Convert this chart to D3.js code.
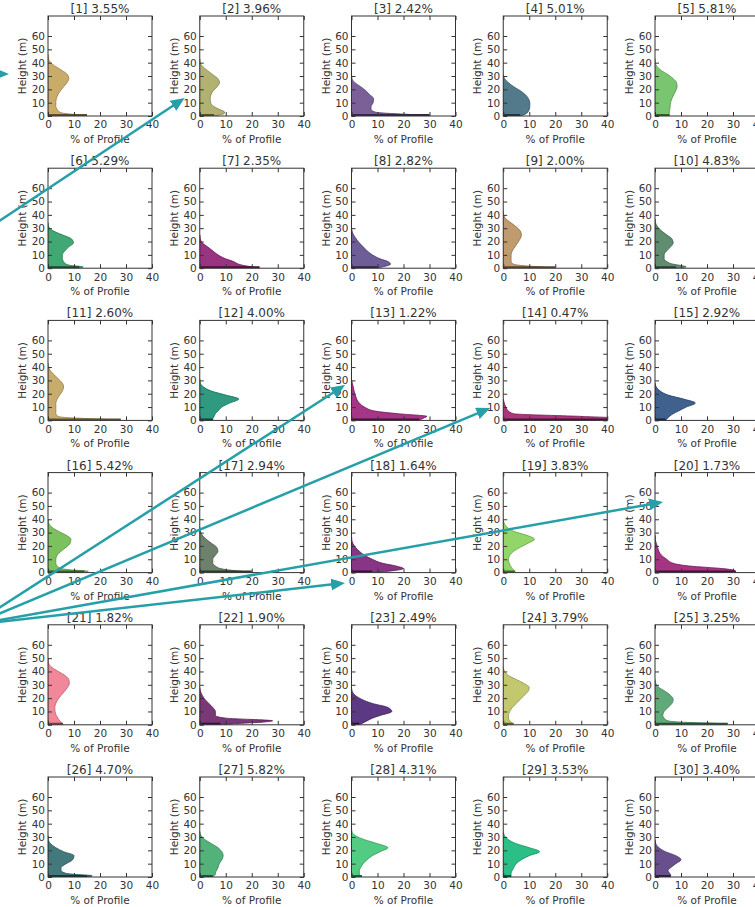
<!DOCTYPE html>
<html>
<head>
<meta charset="utf-8">
<script src="https://cdn.jsdelivr.net/npm/d3@7"></script>
<style>
    body { margin: 0; background: #fff; }
    text { font-family: "DejaVu Sans", sans-serif; fill: #333; }
</style>
</head>
<body>
<svg id="canvas" width="755" height="907"></svg>
<script>
// heights (m) the profiles are sampled at
let heights = [0, 1, 2, 3, 5, 7, 10, 13, 16, 19, 22, 25, 28, 31, 34, 37, 40, 43, 46, 50]

let shares = [3.55, 3.96, 2.42, 5.01, 5.81, 5.29, 2.35, 2.82, 2.00, 4.83,
              2.60, 4.00, 1.22, 0.47, 2.92, 5.42, 2.94, 1.64, 3.83, 1.73,
              1.82, 1.90, 2.49, 3.79, 3.25, 4.70, 5.82, 4.31, 3.53, 3.40]

let colors = ["#c4a35a", "#a9a963", "#6b4f8c", "#3f6b7d", "#6cbf5f",
              "#2e9e64", "#8e1f72", "#5e4b8b", "#b8905e", "#4f7f5f",
              "#c2a35e", "#1a8f72", "#9b1f78", "#a3206e", "#2b4f82",
              "#6dbb4d", "#5e735c", "#7a1f78", "#86d15a", "#9b1f75",
              "#f07b8e", "#6a2468", "#4b2376", "#bcc25e", "#4fa06a",
              "#2f6a6e", "#3faa6a", "#3ec774", "#14b87a", "#5a3c82"]

// % of profile at each height
let p1  = [15, 11, 6, 4.5, 3.5, 3, 3, 3.2, 3.8, 4.8, 6, 7.3, 8, 7.5, 5.5, 3, 1, 0.2, 0]
let p2  = [5.5, 8, 9.5, 9.5, 7.5, 5.5, 4.2, 4, 4.3, 5.2, 6.7, 7.6, 7, 5, 3, 1.2, 0.2, 0]
let p3  = [30, 24, 14, 9, 7.5, 7.5, 8.3, 8.5, 7, 5.5, 3.5, 1.3, 0.2, 0]
let p4  = [6.5, 8, 9, 9.5, 10, 10.2, 10.2, 9.7, 8.5, 6.5, 4, 2, 0.5, 0]
let p5  = [5.5, 5.5, 5.5, 5.5, 5.7, 5.8, 6, 6.5, 7.2, 8, 8.5, 8.3, 7, 5, 2.5, 0.8, 0.1, 0]
let p6  = [12, 13.5, 9, 7, 6, 5.5, 5.5, 6.5, 8, 9.8, 9, 5.5, 2, 0.3, 0]
let p7  = [23, 20, 17, 15, 13, 10, 7, 5, 3, 1, 0.2, 0]
let p8  = [10, 12, 14, 15, 14, 11, 8, 6, 4.5, 3, 1.8, 0.8, 0.2, 0]
let p9  = [20, 14, 7, 4, 3, 3, 3, 3.5, 4.5, 5.5, 6.5, 7, 6.5, 5, 3, 1, 0.2, 0]
let p10 = [8, 12, 10, 7, 4.5, 3.5, 3.5, 4.5, 6, 7, 6.5, 4.5, 2.5, 1, 0.2, 0]
let p11 = [28, 20, 8, 4, 3, 3, 3, 3, 3.5, 4.5, 5.5, 6, 5.5, 4, 2.5, 1, 0.2, 0]
let p12 = [5, 5, 5.2, 5.5, 6, 7, 8.5, 11.5, 15, 10, 4.5, 1.5, 0.2, 0]
let p13 = [26, 27, 28, 29, 18, 9, 5, 3, 2, 1.5, 1, 0.7, 0.3, 0]
let p14 = [45, 45, 42, 30, 4, 2, 1, 0.4, 0]
let p15 = [4, 4.5, 5, 5.5, 7, 9, 12, 15.5, 11, 5, 2, 0.5, 0]
let p16 = [14, 15.5, 9, 5, 3.5, 3, 3, 3.5, 5, 7, 8.5, 8.8, 7, 4, 1.5, 0.3, 0]
let p17 = [20, 16, 11, 8, 6, 5, 5, 6, 7, 6.5, 4.5, 2.5, 1, 0.2, 0]
let p18 = [8, 14, 18, 20, 17, 12, 8, 5, 3, 1.5, 0.5, 0.1, 0]
let p19 = [4.5, 4.5, 4, 3.5, 2.8, 2.3, 2, 2.5, 4, 6.5, 9.5, 12, 9, 4, 1.5, 0.4, 0]
let p20 = [31, 31, 30, 26, 13, 7, 4.5, 2.5, 1.5, 1, 0.5, 0.1, 0]
let p21 = [5.8, 5.5, 5, 4.5, 3.8, 3.2, 2.7, 2.6, 3, 3.8, 5, 6.3, 7.5, 8.2, 8, 6.5, 4, 1.5, 0.3, 0]
let p22 = [8, 15, 24, 28, 10, 6, 6, 5, 3.5, 2, 1, 0.3, 0]
let p23 = [3, 4, 5, 6, 8, 11, 15.5, 14, 8, 4, 1.5, 0.3, 0]
let p24 = [4, 3.5, 3, 2.5, 2, 2, 2.5, 3.5, 5, 6.5, 8, 9.5, 10, 8, 5, 2, 0.5, 0]
let p25 = [28, 24, 10, 5, 3.5, 3, 3.5, 5, 6.5, 7, 6, 4, 1.5, 0.3, 0]
let p26 = [15, 17, 10, 6.5, 5, 5, 7, 9.5, 10, 6, 3, 1, 0.1, 0]
let p27 = [5, 5.5, 6, 6, 6.5, 7, 7.5, 8.5, 9, 8.5, 7, 4.5, 2, 0.5, 0]
let p28 = [4, 3.5, 3, 3, 3, 3.5, 4.5, 6, 8, 11, 14, 10, 5, 1.5, 0.2, 0]
let p29 = [3, 3, 3, 3, 3.5, 4, 5, 7, 10, 14, 10, 5, 2, 0.5, 0]
let p30 = [6, 6, 6, 5.5, 5, 6, 8, 10, 8, 4, 1.5, 0.3, 0]

let profiles = [p1, p2, p3, p4, p5, p6, p7, p8, p9, p10,
                p11, p12, p13, p14, p15, p16, p17, p18, p19, p20,
                p21, p22, p23, p24, p25, p26, p27, p28, p29, p30]

let xTicks = [0, 10, 20, 30, 40]
let yTicks = [0, 10, 20, 30, 40, 50, 60]

// annotation arrows, ends given as [panel, % of profile, height] in that panel
let arrows = [
    {from: [1, -26, 31.5], to: [1, -15, 31.5]},
    {from: [6, -26, 26], to: [2, -5.8, 13.5]},
    {from: [21, -29, 75], to: [13, -2.5, 26.5]},
    {from: [21, -29, 75], to: [14, -5, 9.3]},
    {from: [21, -29, 75], to: [18, -2.5, -7.8]},
    {from: [21, -29, 75], to: [20, 3.1, 53]}
]

let canvas = d3.select("#canvas")

let W = 104, H = 100
let colPos = d3.scaleLinear().domain([0, 4]).range([48, 655])
let rowPos = d3.scaleLinear().domain([0, 5]).range([16, 777])
let x = d3.scaleLinear().domain([0, 40]).range([0, W])
let y = d3.scaleLinear().domain([0, 75]).range([H, 0])

canvas.append("defs").append("clipPath")
    .attr("id", "plotClip")
    .append("rect")
    .attr("width", W)
    .attr("height", H)

let area = d3.area()
    .curve(d3.curveMonotoneY)
    .y(d => y(d.h))
    .x0(x(0))
    .x1(d => x(d.v))

let styleAxis = (g) => {
    g.select(".domain").remove()
    g.attr("color", "#333")
        .attr("font-size", 10.5)
        .attr("font-family", "DejaVu Sans")
}

profiles.forEach((prof, i) => {
    let left = colPos(i % 5)
    let top = rowPos(Math.floor(i / 5))
    let g = canvas.append("g").attr("transform", "translate(" + left + "," + top + ")")

    let pts = prof.map((v, j) => ({h: heights[j], v: v})).reverse()
    let col = colors[i]

    let plot = g.append("g").attr("clip-path", "url(#plotClip)")
    plot.append("path")
        .datum(pts)
        .attr("d", area)
        .attr("fill", col)
        .attr("fill-opacity", 0.9)
        .attr("stroke", d3.color(col).darker(0.8))
        .attr("stroke-width", 0.8)
    plot.append("line")
        .attr("x1", x(0))
        .attr("x2", x(prof[0]))
        .attr("y1", y(0) - 1)
        .attr("y2", y(0) - 1)
        .attr("stroke", d3.color(col).darker(2))
        .attr("stroke-width", 2)

    g.append("g")
        .attr("transform", "translate(0," + H + ")")
        .call(d3.axisBottom(x).tickValues(xTicks).tickSize(-4).tickPadding(5))
        .call(styleAxis)
    g.append("g")
        .call(d3.axisTop(x).tickValues(xTicks).tickSize(-4).tickFormat(""))
        .call(styleAxis)
    g.append("g")
        .call(d3.axisLeft(y).tickValues(yTicks).tickSize(-4).tickPadding(3))
        .call(styleAxis)
    g.append("g")
        .attr("transform", "translate(" + W + ",0)")
        .call(d3.axisRight(y).tickValues(yTicks).tickSize(-4).tickFormat(""))
        .call(styleAxis)

    g.append("rect")
        .attr("width", W)
        .attr("height", H)
        .attr("fill", "none")
        .attr("stroke", "#333")
        .attr("stroke-width", 1)

    g.append("text")
        .text("[" + (i + 1) + "] " + shares[i].toFixed(2) + "%")
        .attr("x", W / 2)
        .attr("y", -3)
        .attr("text-anchor", "middle")
        .attr("font-size", 12)

    g.append("text")
        .text("% of Profile")
        .attr("x", W / 2)
        .attr("y", H + 27)
        .attr("text-anchor", "middle")
        .attr("font-size", 10.5)

    g.append("text")
        .text("Height (m)")
        .attr("transform", "translate(-22," + (H / 2) + ") rotate(-90)")
        .attr("text-anchor", "middle")
        .attr("font-size", 10.5)
})

// arrows on top
let toPixel = (p) => {
    let i = p[0] - 1
    return [colPos(i % 5) + x(p[1]), rowPos(Math.floor(i / 5)) + y(p[2])]
}

canvas.select("defs").append("marker")
    .attr("id", "head")
    .attr("markerUnits", "userSpaceOnUse")
    .attr("markerWidth", 14)
    .attr("markerHeight", 12)
    .attr("refX", 4)
    .attr("refY", 6)
    .attr("orient", "auto")
    .append("path")
    .attr("d", "M0,0 L14,6 L0,12 Z")
    .attr("fill", "#26a0a8")

arrows.forEach(a => {
    let s = toPixel(a.from)
    let e = toPixel(a.to)
    let dx = e[0] - s[0], dy = e[1] - s[1]
    let len = Math.sqrt(dx * dx + dy * dy)
    canvas.append("line")
        .attr("x1", s[0])
        .attr("y1", s[1])
        .attr("x2", e[0] - dx / len * 10)
        .attr("y2", e[1] - dy / len * 10)
        .attr("stroke", "#26a0a8")
        .attr("stroke-width", 2.5)
        .attr("marker-end", "url(#head)")
})
</script>
</body>
</html>
